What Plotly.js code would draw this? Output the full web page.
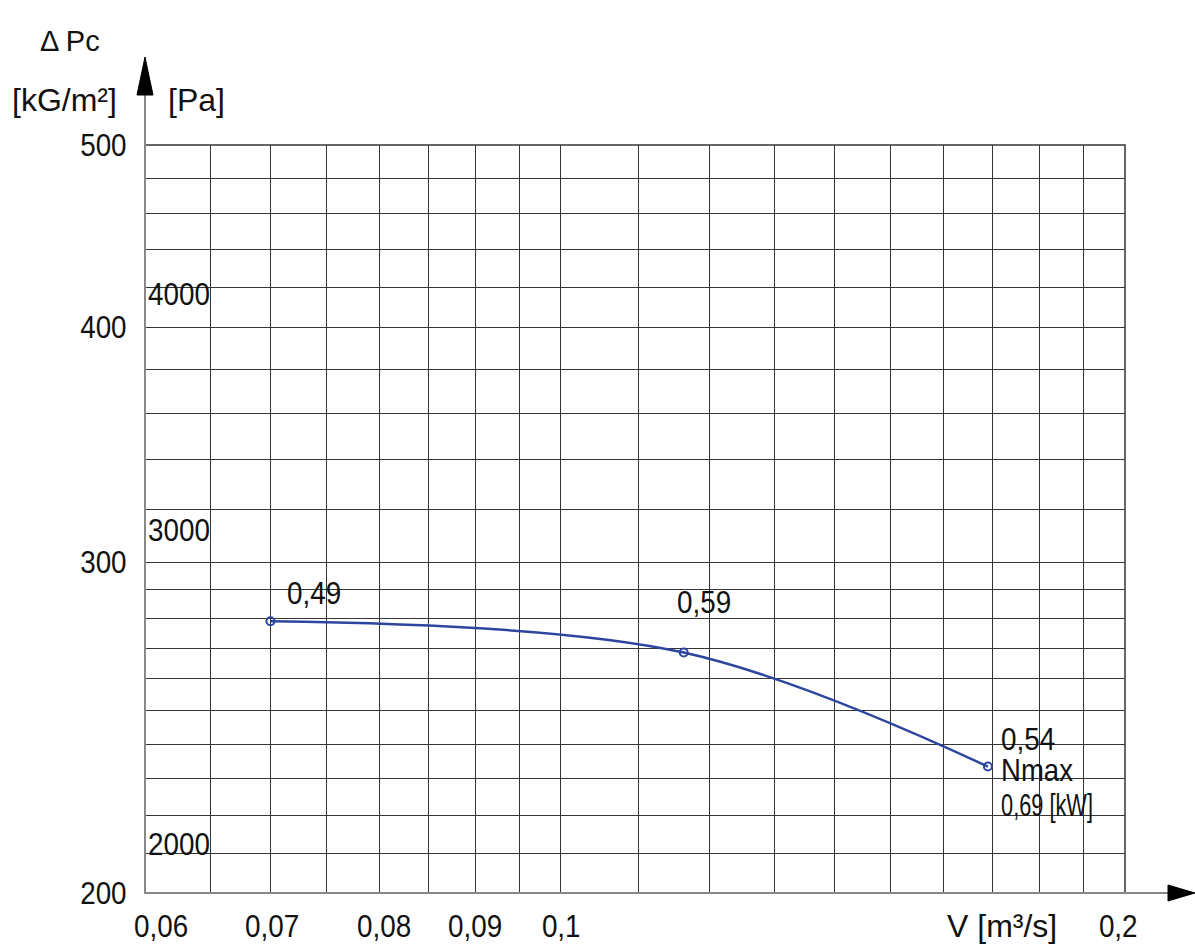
<!DOCTYPE html>
<html>
<head>
<meta charset="utf-8">
<script src="https://cdn.plot.ly/plotly-3.0.1.min.js"></script>
<style>html,body{margin:0;padding:0;background:#fff;}#chart{width:1195px;height:947px;}</style>
</head>
<body>
<div id="chart"></div>
<script>
// ---- data ----
const xTickVals = [0.06, 0.07, 0.08, 0.09, 0.1, 0.2];
const xTickText = ["0,06", "0,07", "0,08", "0,09", "0,1", "0,2"];
const xGrid = [0.065, 0.07, 0.075, 0.08, 0.085, 0.09, 0.095, 0.1, 0.11, 0.12, 0.13, 0.14, 0.15, 0.16, 0.17, 0.18, 0.19];
const yTickVals = [200, 300, 400, 500];
const yTickText = ["200", "300", "400", "500"];
const yGrid = [210, 220, 230, 240, 250, 260, 270, 280, 290, 320, 340, 360, 380, 420, 440, 460, 480];
const paLines = [2000, 3000, 4000];
const paText = ["2000", "3000", "4000"];
const flow = [0.07, 0.1163, 0.169];          // V [m3/s]
const pressure = [279, 268.5, 233.5];        // dPc [kG/m2]
const powerText = ["0,49", "0,59", "0,54"];  // power [kW]
const nmaxText = ["Nmax", "0,69 [kW]"];
const G = 9.80665; // Pa per kG/m2

// ---- layout helpers ----
const W = 1195, H = 947, L = 145, R = 1125, T = 145, B = 893;
const pw = R - L, ph = B - T;
const px = v => (v - L) / pw;
const py = v => (B - v) / ph;
const FONT = "'Liberation Sans', Arial, sans-serif";
const GRID = '#353535';
const BLUE = '#2c46a0';
const FS = 32;

const trace = {
  x: flow, y: pressure, type: 'scatter', mode: 'lines+markers',
  line: {color: BLUE, width: 2.5, shape: 'spline', smoothing: 1},
  marker: {symbol: 'circle-open', size: 8, color: BLUE, line: {width: 2, color: BLUE}},
  hoverinfo: 'x+y', showlegend: false, cliponaxis: false
};

const annotations = [];
// x tick labels
const xLabelShift = [16, 2, 5, 0, 0, -7];
xTickVals.forEach((v, i) => annotations.push({
  x: Math.log10(v), xref: 'x', y: py(926), yref: 'paper', text: xTickText[i],
  showarrow: false, xanchor: 'center', yanchor: 'middle', xshift: xLabelShift[i],
  font: {family: FONT, size: FS, color: '#111'}
}));
// Pa labels
const paShift = [33, 16, 17];
paLines.forEach((p, i) => annotations.push({
  x: px(146), xref: 'paper', y: Math.log10(p / G), yref: 'y', text: paText[i],
  showarrow: false, xanchor: 'left', yanchor: 'middle', yshift: paShift[i],
  font: {family: FONT, size: FS, color: '#111'}
}));
// point labels
const ptShift = [[44, 28, 'center'], [20, 51, 'center'], [11, 28, 'left']];
powerText.forEach((t, i) => annotations.push({
  x: Math.log10(flow[i]), y: Math.log10(pressure[i]), xref: 'x', yref: 'y', text: t,
  showarrow: false, xanchor: ptShift[i][2], yanchor: 'middle', xshift: ptShift[i][0], yshift: ptShift[i][1],
  font: {family: FONT, size: FS, color: '#111'}
}));
const nShift = [-3, -38];
nmaxText.forEach((t, i) => annotations.push({
  x: Math.log10(flow[2]), y: Math.log10(pressure[2]), xref: 'x', yref: 'y', text: t,
  showarrow: false, xanchor: 'left', yanchor: 'middle', xshift: 11, yshift: nShift[i],
  font: {family: FONT, size: FS, color: '#111'}
}));
// axis titles
annotations.push({x: px(70), y: py(41), xref: 'paper', yref: 'paper', text: 'Δ Pc', showarrow: false,
  xanchor: 'center', yanchor: 'middle', font: {family: FONT, size: 29, color: '#111'}});
annotations.push({x: px(64), y: py(100), xref: 'paper', yref: 'paper', text: '[kG/m²]', showarrow: false,
  xanchor: 'center', yanchor: 'middle', font: {family: FONT, size: FS, color: '#111'}});
annotations.push({x: px(196), y: py(100), xref: 'paper', yref: 'paper', text: '[Pa]', showarrow: false,
  xanchor: 'center', yanchor: 'middle', font: {family: FONT, size: FS, color: '#111'}});
annotations.push({x: px(1002), y: py(926), xref: 'paper', yref: 'paper', text: 'V [m³/s]', showarrow: false,
  xanchor: 'center', yanchor: 'middle', font: {family: FONT, size: FS, color: '#111'}});

const shapes = [];
// frame (top and right edges)
shapes.push({type: 'rect', xref: 'paper', yref: 'paper', x0: 0, x1: 1, y0: 0, y1: 1,
  line: {color: GRID, width: 1.5}, fillcolor: 'rgba(0,0,0,0)', layer: 'below'});
// Pa lines
paLines.forEach(p => shapes.push({type: 'line', xref: 'paper', yref: 'y',
  x0: px(110), x1: px(1195), y0: Math.log10(p / G), y1: Math.log10(p / G),
  line: {color: '#333333', width: 1.3}}));
// y axis line + arrow
shapes.push({type: 'line', xref: 'paper', yref: 'paper', x0: 0, x1: 0, y0: 0, y1: py(95),
  line: {color: '#888888', width: 2}});
shapes.push({type: 'path', xref: 'paper', yref: 'paper',
  path: `M ${px(137)} ${py(95)} L ${px(145)} ${py(57)} L ${px(153)} ${py(95)} Z`,
  fillcolor: '#000', line: {color: '#000', width: 1}});
// x axis line + arrow
shapes.push({type: 'line', xref: 'paper', yref: 'paper', x0: 0, x1: px(1168), y0: 0, y1: 0,
  line: {color: '#888888', width: 2}});
shapes.push({type: 'path', xref: 'paper', yref: 'paper',
  path: `M ${px(1168)} ${py(885)} L ${px(1195)} ${py(893)} L ${px(1168)} ${py(901)} Z`,
  fillcolor: '#000', line: {color: '#000', width: 1}});

const layout = {
  width: W, height: H,
  margin: {l: L, r: W - R, t: T, b: H - B, pad: 0},
  paper_bgcolor: '#fff', plot_bgcolor: '#fff',
  showlegend: false,
  xaxis: {
    type: 'log', range: [Math.log10(0.06), Math.log10(0.2)],
    tickmode: 'array', tickvals: xTickVals, showticklabels: false,
    showgrid: true, gridcolor: GRID, gridwidth: 1, zeroline: false, showline: false, ticks: '',
    minor: {tickmode: 'array', tickvals: xGrid, showgrid: true, gridcolor: GRID, gridwidth: 1, ticks: ''},
    fixedrange: true
  },
  yaxis: {
    type: 'log', range: [Math.log10(200), Math.log10(500)],
    tickmode: 'array', tickvals: yTickVals, ticktext: yTickText,
    ticks: 'outside', ticklen: 11, tickcolor: 'rgba(0,0,0,0)',
    tickfont: {family: FONT, size: FS, color: '#111'},
    showgrid: true, gridcolor: GRID, gridwidth: 1, zeroline: false, showline: false,
    minor: {tickmode: 'array', tickvals: yGrid, showgrid: true, gridcolor: GRID, gridwidth: 1, ticks: ''},
    fixedrange: true
  },
  annotations: annotations,
  shapes: shapes
};

// Numeric labels in the reference are drawn in a condensed face; squeeze them horizontally.
const squeeze = {"0,69 [kW]": 0.68, "Nmax": 0.86};
const numericSet = new Set([].concat(xTickText, yTickText, paText, powerText));
const leftAnchored = new Set([].concat(paText, ["0,54"], nmaxText));
Plotly.newPlot('chart', [trace], layout, {staticPlot: true, displayModeBar: false}).then(() => {
  document.querySelectorAll('#chart .annotation-text, #chart .ytick text').forEach(t => {
    const s = t.textContent;
    const f = squeeze[s] || (numericSet.has(s) ? 0.87 : 0);
    if (!f) return;
    const w = t.getComputedTextLength();
    t.setAttribute('textLength', (w * f).toFixed(1));
    t.setAttribute('lengthAdjust', 'spacingAndGlyphs');
    if (leftAnchored.has(s) && t.classList.contains('annotation-text')) {
      const dx = -w * (1 - f) / 2;
      const tr = t.getAttribute('transform') || '';
      t.setAttribute('transform', (tr + ` translate(${dx.toFixed(1)},0)`).trim());
    }
  });
});
</script>
</body>
</html>
